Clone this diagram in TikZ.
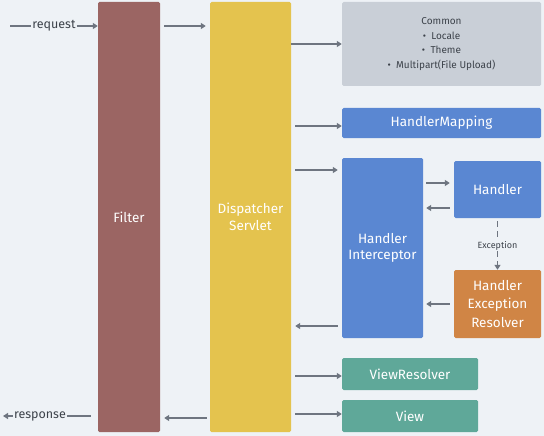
\documentclass[tikz,border=0pt]{standalone}
\usepackage{fontspec}
\setmainfont{Fira Sans}
\usetikzlibrary{arrows.meta,calc}
\definecolor{bg}{HTML}{EEF2F6}
\definecolor{filtc}{HTML}{9B6563}
\definecolor{dispc}{HTML}{E4C34E}
\definecolor{commc}{HTML}{C9CFD7}
\definecolor{bluec}{HTML}{5A87D2}
\definecolor{orangec}{HTML}{D08545}
\definecolor{tealc}{HTML}{5FA899}
\definecolor{linec}{HTML}{6E7580}
\definecolor{darktxt}{HTML}{3C424A}
\begin{document}
\begin{tikzpicture}[x=1pt,y=-1pt,
  box/.style={rounded corners=1.5pt,inner sep=0pt,align=center,text=white,font=\fontsize{13.5}{16.5}\selectfont},
  conn/.style={draw=linec,line width=1.8pt,-{Triangle[length=5pt,width=6pt]}},
  lbl/.style={font=\fontsize{12.5}{14}\selectfont,text=darktxt,inner sep=1pt,fill=bg}]
\fill[bg] (0,0) rectangle (544,436);
\useasboundingbox (0,0) rectangle (544,436);
% boxes
\node[box,fill=filtc,minimum width=62pt,minimum height=430pt] (filter) at (129,217) {Filter};
\node[box,fill=dispc,minimum width=81pt,minimum height=430pt] (disp) at (250.5,217) {Dispatcher\\Servlet};
\node[box,fill=commc,text=darktxt,minimum width=199pt,minimum height=84pt,font=\fontsize{10}{14.5}\selectfont] (common) at (441.5,44) {Common\\\textbullet\ \ Locale\\\textbullet\ \ Theme\\\textbullet\ \ Multipart(File Upload)};
\node[box,fill=bluec,minimum width=199pt,minimum height=30pt] (hm) at (441.5,123) {HandlerMapping};
\node[box,fill=bluec,minimum width=81pt,minimum height=180pt] (hi) at (382.5,248) {Handler\\Interceptor};
\node[box,fill=bluec,minimum width=87pt,minimum height=57pt] (handler) at (497.5,189.5) {Handler};
\node[box,fill=orangec,minimum width=87pt,minimum height=68pt,font=\fontsize{13.5}{18.5}\selectfont] (her) at (497.5,304) {Handler\\Exception\\Resolver};
\node[box,fill=tealc,minimum width=136pt,minimum height=32pt] (vr) at (410,374) {ViewResolver};
\node[box,fill=tealc,minimum width=136pt,minimum height=32pt] (view) at (410,416) {View};
% request / response
\coordinate (reqstart) at (10,26);
\node[lbl] (req) at (54,26) {request};
\draw[draw=linec,line width=1.8pt] (reqstart) -- (req.west);
\draw[conn] (req.east) -- (filter.west |- req);
\coordinate (respend) at (3,416);
\node[lbl] (resp) at (40,416) {response};
\draw[draw=linec,line width=1.8pt] (resp.east) -- ($(filter.west |- resp)+(-7,0)$);
\draw[conn] (resp.west) -- (respend);
% main flow
\draw[conn] ($(filter.east |- 0,26)+(4,0)$) -- ($(disp.west |- 0,26)+(-4,0)$);
\draw[conn] (disp.east |- 0,44) -- (common.west |- 0,44);
\draw[conn] ($(disp.east |- 0,126)+(4,0)$) -- (hm.west |- 0,126);
\draw[conn] ($(disp.east |- 0,170)+(4,0)$) -- ($(hi.west |- 0,170)+(-4,0)$);
\draw[conn] ($(hi.east |- 0,183)+(3,0)$) -- ($(handler.west |- 0,183)+(-4,0)$);
\draw[conn] ($(handler.west |- 0,208)+(-4,0)$) -- ($(hi.east |- 0,208)+(3,0)$);
\draw[conn,dashed,dash pattern=on 6pt off 4pt] ($(handler.south)+(0,3)$) -- node[fill=bg,inner sep=1.5pt,text=darktxt,font=\fontsize{9}{10}\selectfont] {Exception} (her.north);
\draw[conn] ($(her.west |- 0,304)+(-4,0)$) -- ($(hi.east |- 0,304)+(3,0)$);
\draw[conn] ($(hi.west |- 0,326)+(-4,0)$) -- ($(disp.east |- 0,326)+(4,0)$);
\draw[conn] ($(disp.east |- 0,376)+(4,0)$) -- (vr.west |- 0,376);
\draw[conn] ($(disp.east |- 0,414)+(4,0)$) -- (view.west |- 0,414);
\draw[conn] ($(disp.west |- 0,418)+(-3,0)$) -- ($(filter.east |- 0,418)+(4,0)$);
\end{tikzpicture}
\end{document}
